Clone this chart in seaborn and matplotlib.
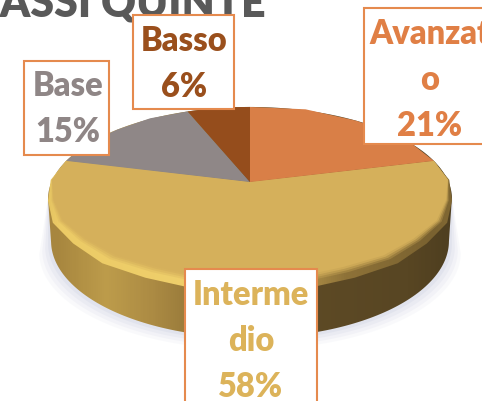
import numpy as np
import matplotlib
matplotlib.use('Agg')
import matplotlib.pyplot as plt
import seaborn as sns
from matplotlib.colors import LinearSegmentedColormap
from matplotlib.patches import Polygon, Rectangle

categories = ['Avanzato', 'Intermedio', 'Base', 'Basso']
values = [21, 58, 15, 6]
wrapped_names = ['Avanzat\no', 'Interme\ndio', 'Base', 'Basso']
title = 'CLASSI QUINTE'

wedge_colors = sns.color_palette(['#d97f47', '#d5b05b', '#8f8787', '#954d1c'])
text_colors = sns.color_palette(['#e07f45', '#dcb35a', '#8f8686', '#9a4f1c'])
border = '#e58a4e'

# label boxes: left, top, right, bottom and text centre, in pixels
boxes = [(364, 9, 500, 145, 430, 80),
         (185, 270, 317, 420, 251, 341),
         (24, 62, 109, 156, 68, 109),
         (133, 16, 234, 110, 184, 64)]

# perspective of the pie in pixels
cx, cy = 250, 183
a, b, k = 88.9, 198.5, 0.1847
depth = 42


def project(uv):
    s = 1 + k * uv[:, 1]
    return np.column_stack([cx + b * uv[:, 0] / s, cy - a * uv[:, 1] / s])


def inset(uv, amount):
    # pull the outline in, only towards the front of the disc
    r = np.hypot(uv[:, 0], uv[:, 1])
    front = np.clip(0.1 - uv[:, 1], 0, 1) * (r > 0.5)
    return uv * (1 - amount * front)[:, None]


def gradient(ax, clip, stops, zorder):
    cmap = LinearSegmentedColormap.from_list('g', stops)
    im = ax.imshow(np.linspace(0, 1, 482)[None, :], cmap=cmap, extent=(0, 482, 402, 0),
                   aspect='auto', zorder=zorder)
    patch = Polygon(clip, transform=ax.transData, closed=True)
    im.set_clip_path(patch)


sns.set_theme(style='white')
plt.rcParams['font.family'] = ['Lato', 'DejaVu Sans']

fig = plt.figure(figsize=(4.82, 4.02), dpi=100)
ax = fig.add_axes([0, 0, 1, 1])

wedges, _ = ax.pie(values, colors=wedge_colors, startangle=90, counterclock=False)
polys = []
for w in wedges:
    p = w.get_patch_transform().transform_path(w.get_path()).to_polygons(closed_only=False)[0]
    polys.append(p)
    w.set_visible(False)

ax.set_aspect('auto')
ax.axis('off')

t = np.linspace(0, 2 * np.pi, 300)
rim = project(np.column_stack([np.cos(t), np.sin(t)]))
mid_y = 0.5 * (rim[:, 1].min() + rim[:, 1].max())
hull = rim.copy()
low = hull[:, 1] > mid_y
hull[low, 1] = mid_y + (hull[low, 1] - mid_y) * 1.05 + depth
hull[low, 0] = cx + (hull[low, 0] - cx) * 0.985

# soft shadow below the disc
for grow, alpha in zip([12, 9, 6, 3], [0.10, 0.14, 0.18, 0.25]):
    sh = hull.copy()
    fade = np.clip((sh[:, 1] - mid_y) / 40, 0, 1)
    sh[:, 0] = cx + (sh[:, 0] - cx) * (1 + fade * grow / 202)
    sh[:, 1] = sh[:, 1] + grow * fade
    ax.add_patch(Polygon(sh, color='#c9cde0', alpha=alpha, lw=0, zorder=1))

# side of the disc
gradient(ax, hull, [(0, '#a5843f'), (0.12, '#a8873f'), (0.22, '#bd9c4b'), (0.32, '#ab8a43'),
                    (0.44, '#8c7035'), (0.58, '#5f4b26'), (0.85, '#584623'), (0.93, '#4f3f20'),
                    (1, '#5e4c28')], 2)

# bevel along the rim of the big slice, then the flat top on it
big = polys[1]
gradient(ax, project(big), [(0, '#c8a44f'), (0.12, '#eccb66'), (0.45, '#f0d06c'), (0.58, '#c0a050'),
                            (0.72, '#8e7238'), (0.9, '#7a6230'), (1, '#8e7238')], 3)
for amount, alpha in zip([0.05, 0.065, 0.08, 0.095], [0.3, 0.45, 0.7, 1.0]):
    ax.add_patch(Polygon(project(inset(big, amount)), color=wedge_colors[1], alpha=alpha, lw=0, zorder=3.5))

for i, p in enumerate(polys):
    if i != 1:
        ax.add_patch(Polygon(project(p), color=wedge_colors[i], lw=0, zorder=4))

ax.text(266, 17, title, ha='right', va='baseline', fontsize=31, fontweight='heavy', color='#595959', zorder=5)

for name, val, col, box in zip(wrapped_names, values, text_colors, boxes):
    x0, y0, x1, y1, tx, ty = box
    ax.add_patch(Rectangle((x0, y0), x1 - x0, y1 - y0, facecolor='white', edgecolor=border, lw=1.5, zorder=6))
    ax.text(tx, ty, f'{name}\n{val}%', ha='center', va='center', ma='center', fontsize=23.5,
            fontweight='heavy', color=col, linespacing=1.55, zorder=7)

ax.set_xlim(0, 482)
ax.set_ylim(402, 0)
fig.savefig('out.png', dpi=100)
